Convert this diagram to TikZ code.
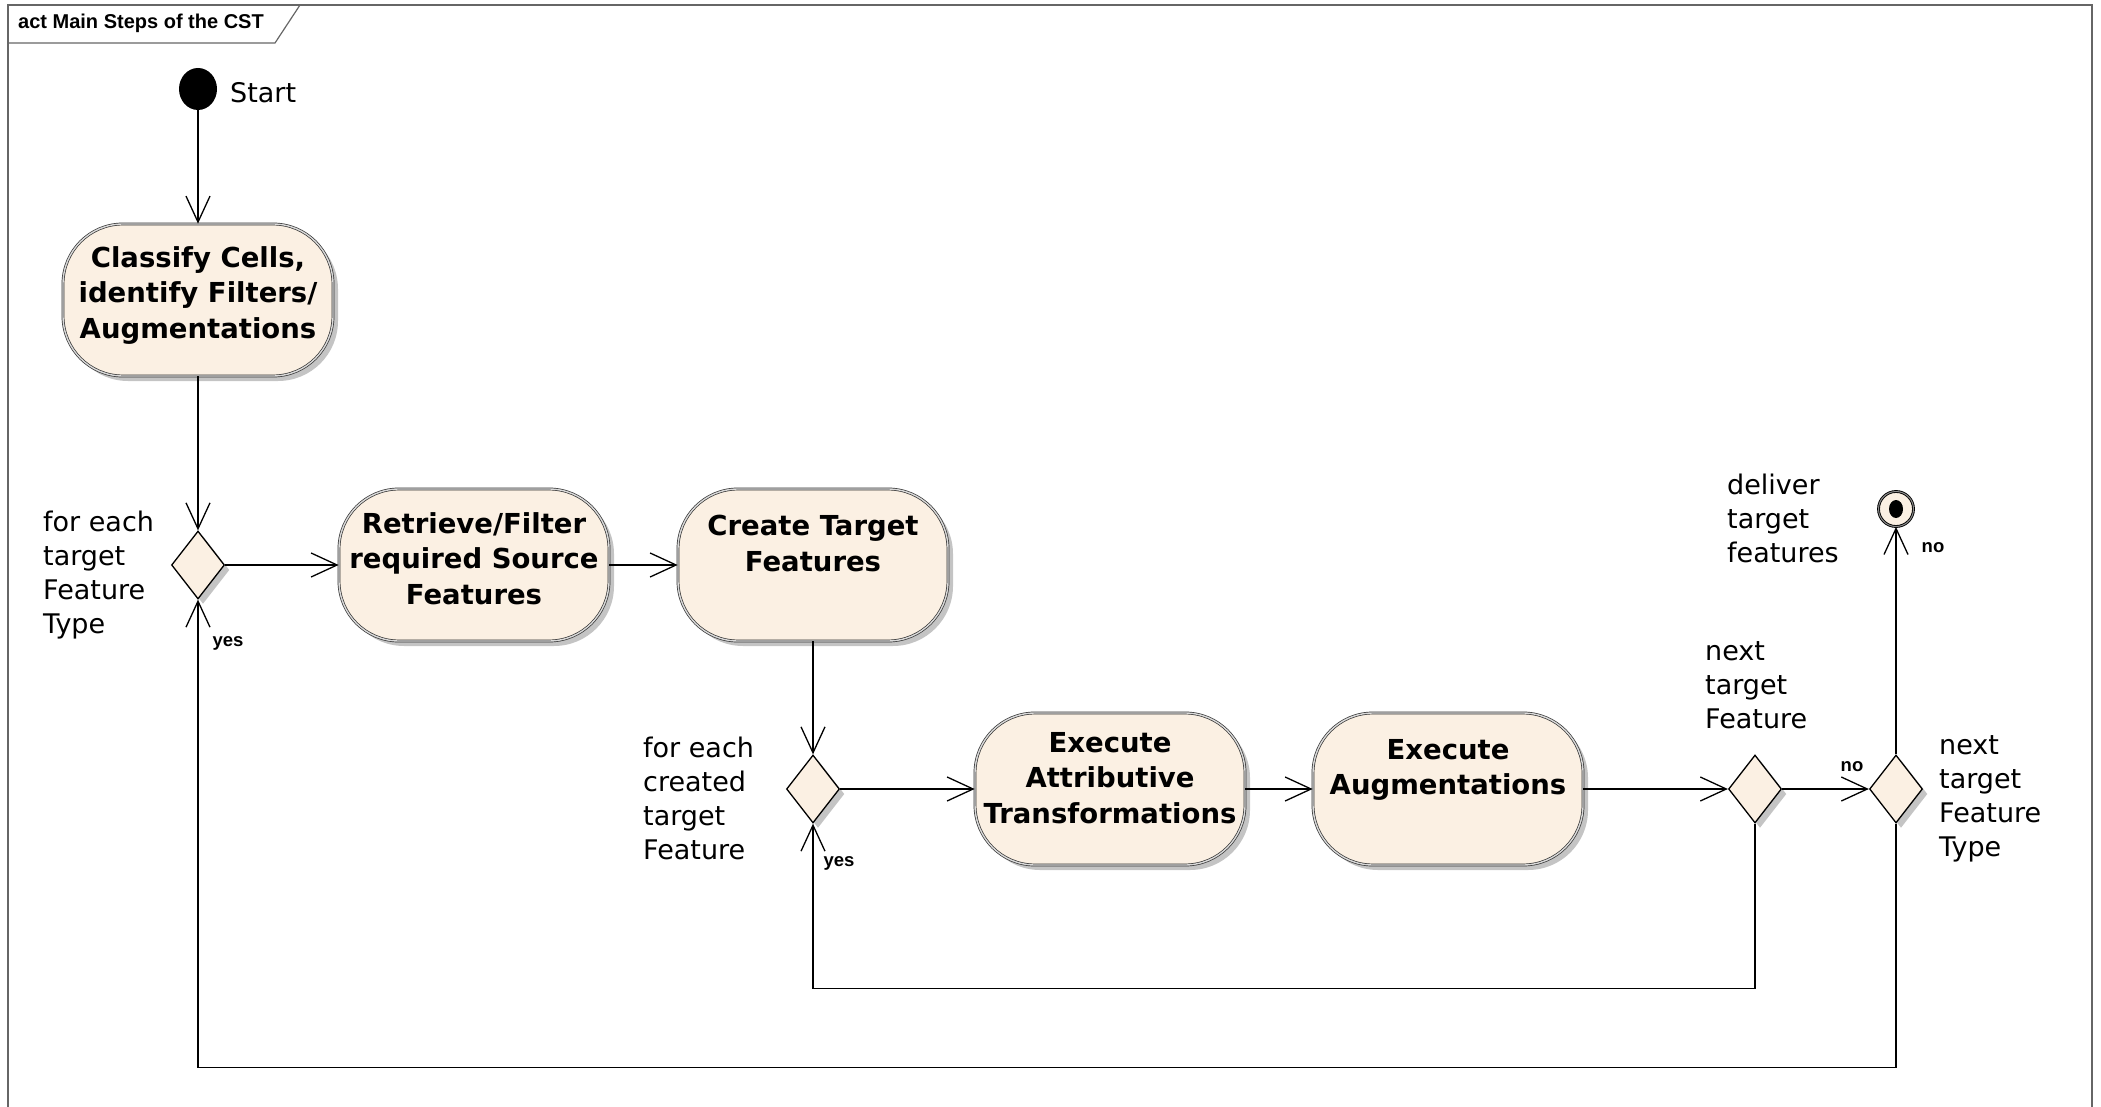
\documentclass[tikz,border=0pt]{standalone}
\usepackage{fontspec}
\setmainfont{DejaVu Sans}
\newfontfamily\labelfont{Liberation Sans}
\usetikzlibrary{shapes.geometric,arrows.meta,shadows,calc}
\definecolor{actfill}{HTML}{FBF0E3}
\definecolor{framegray}{HTML}{666666}
\definecolor{shadowgray}{HTML}{C4C4C4}
\begin{document}
\begin{tikzpicture}[x=1pt,y=-1pt,
  actbox/.style={rectangle, rounded corners=60pt, minimum width=270pt, minimum height=152pt,
    fill=actfill, draw=black!80, line width=0.7pt, double=white!85!black, double distance=1.4pt,
    drop shadow={shadow xshift=5pt, shadow yshift=-5pt, fill=shadowgray, opacity=1}, inner sep=0pt},
  decision/.style={diamond, minimum width=53pt, minimum height=68pt, inner sep=0pt,
    fill=actfill, draw=black, line width=1.3pt,
    drop shadow={shadow xshift=5pt, shadow yshift=-5pt, fill=shadowgray, opacity=1}},
  flow/.style={line width=1.3pt, -{Straight Barb[length=26pt,width=24pt]}},
  lbl/.style={font=\fontsize{27}{34}\selectfont, align=left, inner sep=0pt},
  boxtext/.style={font=\bfseries\fontsize{27.5}{35.5}\selectfont, align=center, inner sep=0pt, anchor=north},
  small/.style={font=\labelfont\bfseries\fontsize{18.5}{22}\selectfont, inner sep=0pt}
]
\useasboundingbox (0,0) rectangle (2101,1107);
% frame
\draw[framegray, line width=1.5pt] (8,1125) -- (8,5) -- (2092,5) -- (2092,1125);
\draw[framegray, line width=1.2pt] (8,43) -- (275,43) -- (300,5);
\node[font=\labelfont\bfseries\fontsize{20}{24}\selectfont, anchor=base west, inner sep=0pt] (title) at (18,29) {act Main Steps of the CST};

% nodes
\node[ellipse, fill=black, minimum width=38pt, minimum height=42pt, inner sep=0pt] (start) at (198,89) {};
\node[lbl, anchor=base west] (startl) at (230,103) {Start};

\node[actbox] (classify) at (198,300) {};
\node[boxtext] (classifyt) at (198,246) {Classify Cells,\\identify Filters/\\Augmentations};

\node[decision] (d1) at (198,565) {};
\node[actbox] (retrieve) at (474,565) {};
\node[boxtext] (retrievet) at (474,512) {Retrieve/Filter\\required Source\\Features};
\node[actbox] (create) at (813,565) {};
\node[boxtext] (createt) at (813,515) {Create Target\\Features};

\node[decision] (d2) at (813,789) {};
\node[actbox] (attr) at (1110,789) {};
\node[boxtext] (attrt) at (1110,732) {Execute\\Attributive\\Transformations};
\node[actbox] (aug) at (1448,789) {};
\node[boxtext] (augt) at (1448,739) {Execute\\Augmentations};
\node[decision] (d3) at (1755,789) {};
\node[decision] (d4) at (1896,789) {};

\node[circle, minimum size=35pt, inner sep=0pt, fill=actfill, draw=black, line width=0.9pt,
  double=black!45, double distance=1pt] (final) at (1896,509) {};
\node[ellipse, fill=black, minimum width=14pt, minimum height=18pt, inner sep=0pt] (finaldot) at (1896,509) {};

% connectors
\draw[flow] (start) -- (classify);
\draw[flow] (classify) -- (d1);
\draw[flow] (d1) -- (retrieve);
\draw[flow] (retrieve) -- (create);
\draw[flow] (create) -- (d2);
\draw[flow] (d2) -- (attr);
\draw[flow] (attr) -- (aug);
\draw[flow] (aug) -- (d3);
\draw[flow] (d3) -- (d4);
\draw[flow] (d4) -- (final);
\draw[flow] (d3.south) -- ++(0,165) -| (d2.south);
\draw[flow] (d4.south) -- ++(0,244) -| (d1.south);

% labels
\node[small] (yes1) at (228,643) {yes};
\node[small] (yes2) at (839,863) {yes};
\node[small] (no1) at (1852,767) {no};
\node[small] (no2) at (1933,548) {no};

\node[lbl, anchor=north west] (t1) at (43,511) {for each\\target\\Feature\\Type};
\node[lbl, anchor=north west] (t2) at (643,737) {for each\\created\\target\\Feature};
\node[lbl, anchor=north west] (t3) at (1727,474) {deliver\\target\\features};
\node[lbl, anchor=north west] (t4) at (1705,641) {next\\target\\Feature};
\node[lbl, anchor=north west] (t5) at (1939,735) {next\\target\\Feature\\Type};
\end{tikzpicture}
\end{document}
